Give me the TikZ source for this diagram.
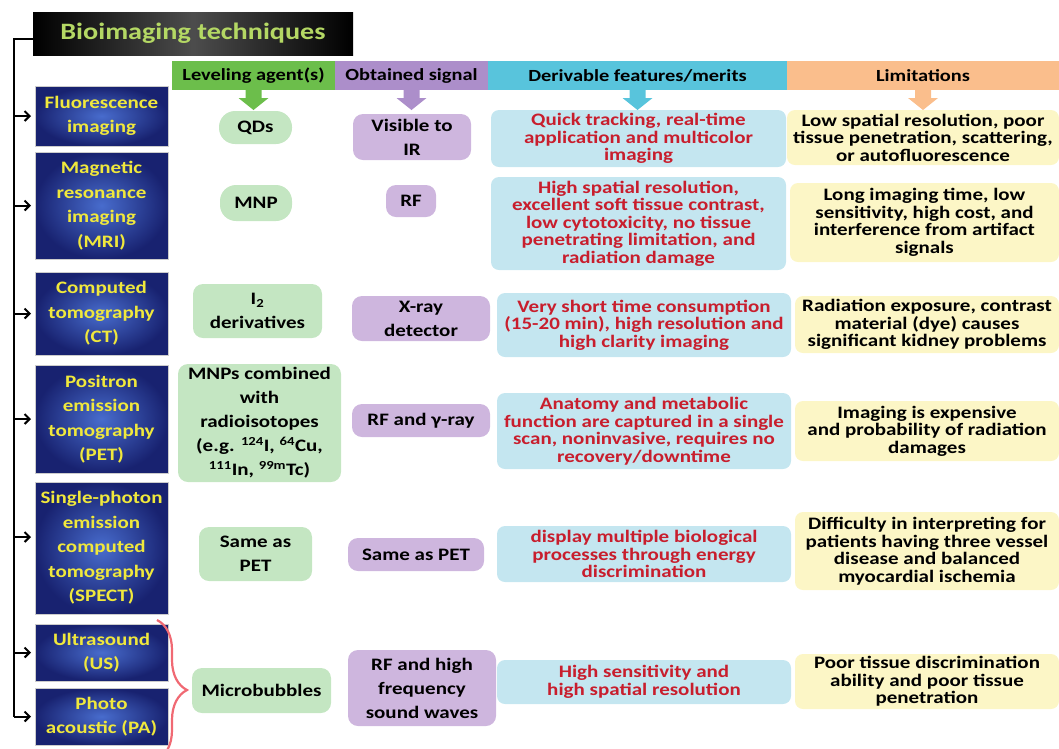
\documentclass[tikz,border=0pt]{standalone}
\usepackage{fontspec}
\setmainfont{Carlito}[FakeStretch=1.2]
\usetikzlibrary{arrows.meta,decorations.pathreplacing}
\definecolor{hgreen}{RGB}{108,190,75}
\definecolor{hpurple}{RGB}{172,142,202}
\definecolor{hcyan}{RGB}{88,196,220}
\definecolor{horange}{RGB}{250,190,140}
\definecolor{bgreen}{RGB}{196,230,194}
\definecolor{bpurple}{RGB}{206,182,222}
\definecolor{bcyan}{RGB}{196,230,240}
\definecolor{byellow}{RGB}{252,246,198}
\definecolor{tred}{RGB}{200,30,45}
\definecolor{tyellow}{RGB}{240,232,60}
\definecolor{tgreen}{RGB}{180,216,100}
\definecolor{navyout}{RGB}{24,34,112}
\definecolor{navyin}{RGB}{72,108,205}
\definecolor{bracered}{RGB}{240,105,115}
\newcommand\blockarr[2]{\fill[#1] (#2) ++(-8,0) -- ++(0,8) -- ++(-7,0) -- ++(15,12) -- ++(15,-12) -- ++(-7,0) -- ++(0,-8) -- cycle;}
\begin{document}
\begin{tikzpicture}[x=1pt,y=-1pt,
  every node/.style={inner sep=0pt, outer sep=0pt, align=center, font=\bfseries\fontsize{17.5}{17.5}\selectfont},
  titlebox/.style={rectangle, left color=black, right color=black, middle color=gray!60!black, text=tgreen, font=\bfseries\fontsize{23.5}{24}\selectfont},
  tech/.style={rectangle, inner color=navyin, outer color=navyout, draw=gray!40, line width=0.6pt, text=tyellow, minimum width=133, font=\bfseries\fontsize{17.5}{24.5}\selectfont},
  hdr/.style={rectangle, minimum height=29, font=\bfseries\fontsize{17}{17}\selectfont},
  agent/.style={rectangle, rounded corners=10pt, fill=bgreen, font=\bfseries\fontsize{17.5}{24}\selectfont},
  signal/.style={rectangle, rounded corners=10pt, fill=bpurple, font=\bfseries\fontsize{17.5}{24}\selectfont},
  merit/.style={rectangle, rounded corners=8pt, fill=bcyan, text=tred},
  limit/.style={rectangle, rounded corners=8pt, fill=byellow},
  spine/.style={line width=2pt, black},
  harrow/.style={-{Straight Barb[length=5pt,width=10pt,line width=2pt]}, line width=2pt, shorten >=4pt},
]
\useasboundingbox (0,0) rectangle (1059,748);
\clip (0,0) rectangle (1059,748);
% title
\node[titlebox, minimum width=320, minimum height=43] (title) at (193,33.5) {Bioimaging techniques};
% headers
\node[hdr, fill=hgreen, minimum width=163] (hg) at (253.5,75.5) {Leveling agent(s)};
\node[hdr, fill=hpurple, minimum width=153] (hp) at (411.5,75.5) {Obtained signal};
\node[hdr, fill=hcyan, minimum width=299] (hc) at (637.5,75.5) {Derivable features/merits};
\node[hdr, fill=horange, minimum width=272] (ho) at (923,75.5) {Limitations};
\blockarr{hgreen}{hg.south}
\blockarr{hpurple}{hp.south}
\blockarr{hcyan}{hc.south}
\blockarr{horange}{ho.south}
% techniques
\node[tech, minimum height=60] (fl) at (101.5,116) {Fluorescence\\imaging};
\node[tech, minimum height=107] (mri) at (101.5,205.5) {Magnetic\\resonance\\imaging\\(MRI)};
\node[tech, minimum height=83] (ct) at (101.5,313.5) {Computed\\tomography\\(CT)};
\node[tech, minimum height=108] (pet) at (101.5,419) {Positron\\emission\\tomography\\(PET)};
\node[tech, minimum height=132] (spect) at (101.5,548) {Single-photon\\emission\\computed\\tomography\\(SPECT)};
\node[tech, minimum height=57] (us) at (101.5,652.5) {Ultrasound\\(US)};
\node[tech, minimum height=57] (pa) at (101.5,716.5) {Photo\\acoustic (PA)};
% spine
\coordinate (sp) at (14,38);
\draw[spine] ([yshift=-5pt]title.west) -| (sp |- pa.west);
\draw[harrow] (sp |- fl.west) -- (fl.west);
\draw[harrow] (sp |- mri.west) -- (mri.west);
\draw[harrow] (sp |- ct.west) -- (ct.west);
\draw[harrow] (sp |- pet.west) -- (pet.west);
\draw[harrow] ([yshift=11pt]sp |- spect.west) -- ([yshift=11pt]spect.west);
\draw[harrow] (sp |- us.west) -- (us.west);
\draw[harrow] (sp |- pa.west) -- (pa.west);
% agents
\node[agent, rounded corners=16pt, minimum width=73, minimum height=33] (qds) at (255.5,127.5) {QDs};
\node[agent, rounded corners=16pt, minimum width=72, minimum height=36] (mnp) at (256,203) {MNP};
\node[agent, minimum width=129, minimum height=54] (i2) at (257.5,311) {I\textsubscript{2}\\derivatives};
\node[agent, minimum width=163, minimum height=118] (mnps) at (259.5,423) {MNPs combined\\with\\radioisotopes\\(e.g. \textsuperscript{124}I, \textsuperscript{64}Cu,\\\textsuperscript{111}In, \textsuperscript{99m}Tc)};
\node[agent, minimum width=113, minimum height=54] (samepetg) at (255.5,554) {Same as\\PET};
\node[agent, minimum width=139, minimum height=45] (micro) at (261.5,690.5) {Microbubbles};
% signals
\node[signal, minimum width=118, minimum height=46] (vis) at (412,137) {Visible to\\IR};
\node[signal, minimum width=50, minimum height=32] (rf) at (411,201) {RF};
\node[signal, minimum width=138, minimum height=45] (xray) at (421,318.5) {X-ray\\detector};
\node[signal, minimum width=138, minimum height=33] (rfg) at (421,420.5) {RF and γ-ray};
\node[signal, minimum width=136, minimum height=33] (samepetp) at (416,554.5) {Same as PET};
\node[signal, minimum width=148, minimum height=76] (rfhf) at (422,688) {RF and high\\frequency\\sound waves};
% merits
\node[merit, minimum width=295, minimum height=57] (m1) at (638.5,138.5) {Quick tracking, real-time\\application and multicolor\\imaging};
\node[merit, minimum width=295, minimum height=93] (m2) at (638.5,223.5) {High spatial resolution,\\excellent soft tissue contrast,\\low cytotoxicity, no tissue\\penetrating limitation, and\\radiation damage};
\node[merit, minimum width=294, minimum height=64] (m3) at (644,325) {Very short time consumption\\(15-20 min), high resolution and\\high clarity imaging};
\node[merit, minimum width=294, minimum height=76] (m4) at (644,431) {Anatomy and metabolic\\function are captured in a single\\scan, noninvasive, requires no\\recovery/downtime};
\node[merit, minimum width=294, minimum height=56] (m5) at (644,554) {display multiple biological\\processes through energy\\discrimination};
\node[merit, minimum width=294, minimum height=44] (m6) at (644,682) {High sensitivity and\\high spatial resolution};
% limitations
\node[limit, minimum width=272, minimum height=55] (l1) at (923,137.5) {Low spatial resolution, poor\\tissue penetration, scattering,\\or autofluorescence};
\node[limit, minimum width=269, minimum height=79] (l2) at (924.5,222.5) {Long imaging time, low\\sensitivity, high cost, and\\interference from artifact\\signals};
\node[limit, minimum width=264, minimum height=57] (l3) at (927,324.5) {Radiation exposure, contrast\\material (dye) causes\\significant kidney problems};
\node[limit, minimum width=264, minimum height=60] (l4) at (927,431) {Imaging is expensive\\and probability of radiation\\damages};
\node[limit, minimum width=264, minimum height=78] (l5) at (927,551) {Difficulty in interpreting for\\patients having three vessel\\disease and balanced\\myocardial ischemia};
\node[limit, minimum width=264, minimum height=55] (l6) at (927,681.5) {Poor tissue discrimination\\ability and poor tissue\\penetration};
% brace
\draw[bracered, line width=2.2pt, decorate, decoration={brace, amplitude=30pt, aspect=0.5}] (157,620) -- (157,760);
\end{tikzpicture}
\end{document}
